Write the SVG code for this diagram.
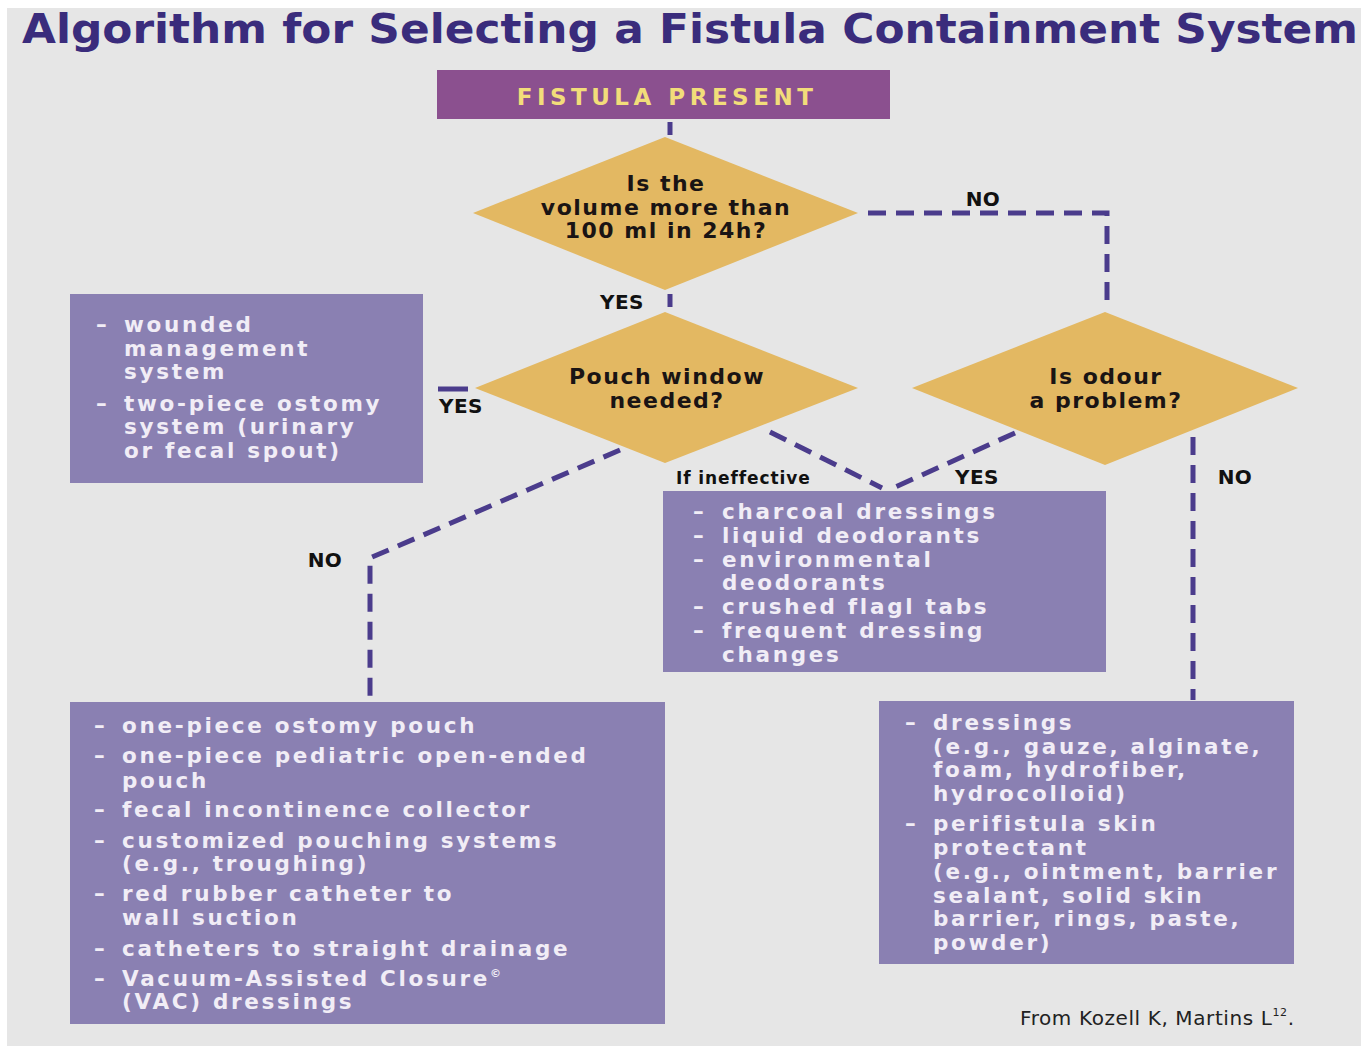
<svg xmlns="http://www.w3.org/2000/svg" width="1368" height="1046" viewBox="0 0 1368 1046">
<style>
.bg{fill:#e6e6e6}
.box{fill:#8a80b2}
.dia{fill:#e3b862}
.bt{font-family:"DejaVu Sans",Verdana,sans-serif;font-weight:bold;font-size:21.5px;fill:#f1edf6;letter-spacing:2.7px}
.dt{font-family:"DejaVu Sans",Verdana,sans-serif;font-weight:bold;font-size:22px;fill:#1a1414;text-anchor:middle;letter-spacing:1.5px}
.lb{font-family:"DejaVu Sans",Verdana,sans-serif;font-weight:bold;font-size:20px;fill:#111;letter-spacing:0.5px}
.con{fill:none;stroke:#4b3c8c;stroke-width:5;stroke-dasharray:18 10}
.sol{fill:none;stroke:#4b3c8c;stroke-width:5}
</style>
<rect width="1368" height="1046" fill="#ffffff"/>
<rect class="bg" x="7" y="8" width="1354" height="1038"/>
<text x="22" y="43" font-family="'DejaVu Sans',Verdana,sans-serif" font-weight="bold" font-size="41" fill="#3a2c7c" textLength="1336" lengthAdjust="spacingAndGlyphs">Algorithm for Selecting a Fistula Containment System</text>

<g id="connectors">
  <line class="sol" x1="670" y1="122" x2="670" y2="135"/>
  <polyline class="con" points="868,213 1107,213 1107,305"/>
  <line class="sol" x1="670" y1="294" x2="670" y2="307"/>
  <line class="sol" x1="438" y1="389" x2="468" y2="389"/>
  <polyline class="con" points="620,450 370,558 370,700"/>
  <line class="con" x1="770" y1="432" x2="882" y2="488"/>
  <line class="con" x1="1015" y1="433" x2="893" y2="488"/>
  <line class="con" x1="1193" y1="437" x2="1193" y2="700"/>
  <text class="lb" x="983" y="206" text-anchor="middle">NO</text>
  <text class="lb" x="622" y="309" text-anchor="middle">YES</text>
  <text class="lb" x="461" y="413" text-anchor="middle">YES</text>
  <text class="lb" x="325" y="567" text-anchor="middle">NO</text>
  <text x="676" y="484" font-family="'DejaVu Sans',Verdana,sans-serif" font-weight="bold" font-size="17" fill="#111" letter-spacing="0.9">If ineffective</text>
  <text class="lb" x="977" y="484" text-anchor="middle">YES</text>
  <text class="lb" x="1235" y="484" text-anchor="middle">NO</text>
</g>

<g id="fistula-present">
  <rect x="437" y="70" width="453" height="49" fill="#8b508f"/>
  <text x="667" y="105" text-anchor="middle" font-family="'DejaVu Sans',Verdana,sans-serif" font-weight="bold" font-size="23" fill="#f2dd7a" letter-spacing="4.5">FISTULA PRESENT</text>
</g>

<g id="volume-decision">
  <polygon class="dia" points="665,137 858,213 665,290 473,213"/>
  <text class="dt" x="666" y="191">Is the</text>
  <text class="dt" x="666" y="215">volume more than</text>
  <text class="dt" x="666" y="238">100 ml in 24h?</text>
</g>

<g id="pouch-window-decision">
  <polygon class="dia" points="665,312 858,388 665,463 475,388"/>
  <text class="dt" x="667" y="384">Pouch window</text>
  <text class="dt" x="667" y="408">needed?</text>
</g>

<g id="odour-decision">
  <polygon class="dia" points="1105,312 1298,388 1105,465 912,388"/>
  <text class="dt" x="1106" y="384">Is odour</text>
  <text class="dt" x="1106" y="408">a problem?</text>
</g>

<g id="window-options">
  <rect class="box" x="70" y="294" width="353" height="189"/>
  <text class="bt" x="96" y="332">–</text><text class="bt" x="124" y="332">wounded</text>
  <text class="bt" x="124" y="356">management</text>
  <text class="bt" x="124" y="379">system</text>
  <text class="bt" x="96" y="411">–</text><text class="bt" x="124" y="411">two-piece ostomy</text>
  <text class="bt" x="124" y="434">system (urinary</text>
  <text class="bt" x="124" y="458">or fecal spout)</text>
</g>

<g id="odour-options">
  <rect class="box" x="663" y="491" width="443" height="181"/>
  <text class="bt" x="693" y="519">–</text><text class="bt" x="722" y="519">charcoal dressings</text>
  <text class="bt" x="693" y="543">–</text><text class="bt" x="722" y="543">liquid deodorants</text>
  <text class="bt" x="693" y="567">–</text><text class="bt" x="722" y="567">environmental</text>
  <text class="bt" x="722" y="590">deodorants</text>
  <text class="bt" x="693" y="614">–</text><text class="bt" x="722" y="614">crushed flagl tabs</text>
  <text class="bt" x="693" y="638">–</text><text class="bt" x="722" y="638">frequent dressing</text>
  <text class="bt" x="722" y="662">changes</text>
</g>

<g id="pouch-options">
  <rect class="box" x="70" y="702" width="595" height="322"/>
  <text class="bt" x="94" y="733">–</text><text class="bt" x="122" y="733">one-piece ostomy pouch</text>
  <text class="bt" x="94" y="763">–</text><text class="bt" x="122" y="763">one-piece pediatric open-ended</text>
  <text class="bt" x="122" y="788">pouch</text>
  <text class="bt" x="94" y="817">–</text><text class="bt" x="122" y="817">fecal incontinence collector</text>
  <text class="bt" x="94" y="848">–</text><text class="bt" x="122" y="848">customized pouching systems</text>
  <text class="bt" x="122" y="871">(e.g., troughing)</text>
  <text class="bt" x="94" y="901">–</text><text class="bt" x="122" y="901">red rubber catheter to</text>
  <text class="bt" x="122" y="925">wall suction</text>
  <text class="bt" x="94" y="956">–</text><text class="bt" x="122" y="956">catheters to straight drainage</text>
  <text class="bt" x="94" y="986">–</text><text class="bt" x="122" y="986">Vacuum-Assisted Closure<tspan font-size="11" dy="-9">©</tspan></text>
  <text class="bt" x="122" y="1009">(VAC) dressings</text>
</g>

<g id="dressing-options">
  <rect class="box" x="879" y="701" width="415" height="263"/>
  <text class="bt" x="905" y="730">–</text><text class="bt" x="933" y="730">dressings</text>
  <text class="bt" x="933" y="754">(e.g., gauze, alginate,</text>
  <text class="bt" x="933" y="777">foam, hydrofiber,</text>
  <text class="bt" x="933" y="801">hydrocolloid)</text>
  <text class="bt" x="905" y="831">–</text><text class="bt" x="933" y="831">perifistula skin</text>
  <text class="bt" x="933" y="855">protectant</text>
  <text class="bt" x="933" y="879">(e.g., ointment, barrier</text>
  <text class="bt" x="933" y="903">sealant, solid skin</text>
  <text class="bt" x="933" y="926">barrier, rings, paste,</text>
  <text class="bt" x="933" y="950">powder)</text>
</g>

<text x="1020" y="1025" font-family="'DejaVu Sans',Verdana,sans-serif" font-size="20" fill="#222" letter-spacing="0.6">From Kozell K, Martins L<tspan font-size="11" dy="-9">12</tspan><tspan dy="9">.</tspan></text>
</svg>
